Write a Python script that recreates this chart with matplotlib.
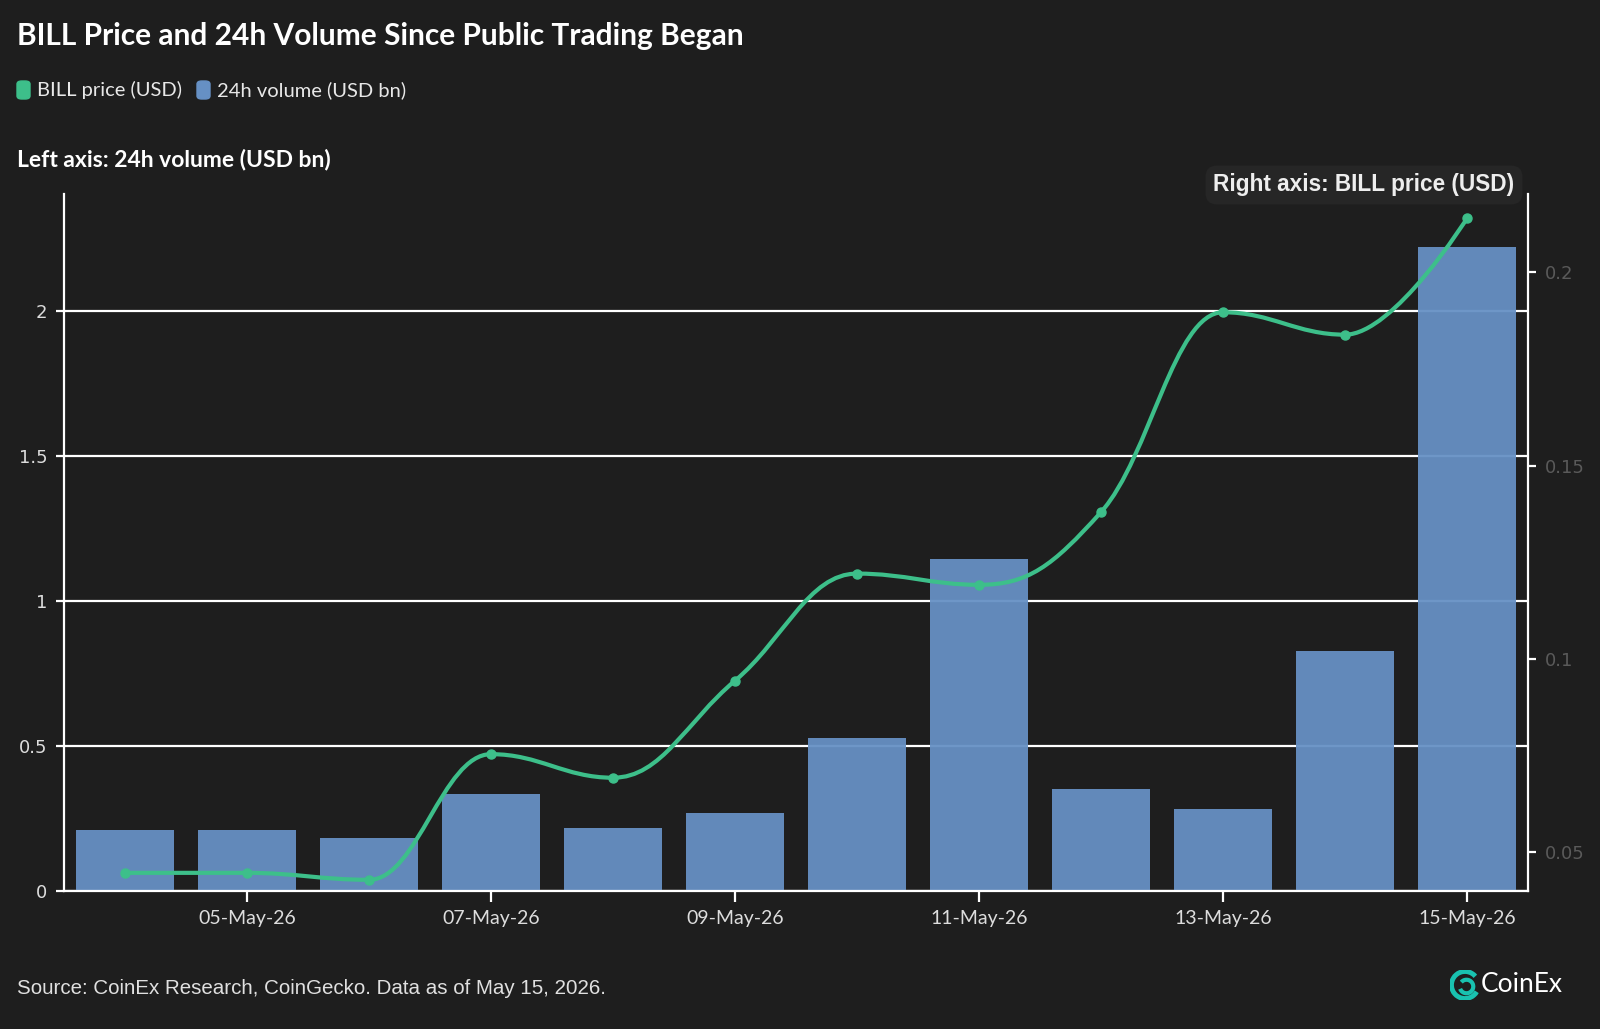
import matplotlib
matplotlib.use('Agg')
import matplotlib.pyplot as plt
from matplotlib.path import Path
from matplotlib.patches import PathPatch, Arc, FancyBboxPatch
import numpy as np

# data
dates = ["04-May-26", "05-May-26", "06-May-26", "07-May-26", "08-May-26", "09-May-26",
         "10-May-26", "11-May-26", "12-May-26", "13-May-26", "14-May-26", "15-May-26"]
volume_bn = [0.211, 0.211, 0.183, 0.335, 0.218, 0.268, 0.528, 1.144, 0.352, 0.282, 0.827, 2.222]
price_usd = [0.0447, 0.0447, 0.0429, 0.0754, 0.0693, 0.0944, 0.1221, 0.1192, 0.1380, 0.1897, 0.1839, 0.2140]

BG = "#1e1e1e"
GREEN = "#3dbf8a"
BLUE = "#6690c4"


def spline_path(xs, ys, smoothing=1.5):
    # Highcharts-style spline control points
    n = len(xs)
    lc = [(x, y) for x, y in zip(xs, ys)]
    rc = [(x, y) for x, y in zip(xs, ys)]
    denom = smoothing + 1
    for i in range(1, n - 1):
        px, py = xs[i], ys[i]
        lx, ly = xs[i - 1], ys[i - 1]
        nx, ny = xs[i + 1], ys[i + 1]
        lcx = (smoothing * px + lx) / denom
        lcy = (smoothing * py + ly) / denom
        rcx = (smoothing * px + nx) / denom
        rcy = (smoothing * py + ny) / denom
        if rcx != lcx:
            corr = ((rcy - lcy) * (rcx - px)) / (rcx - lcx) + py - rcy
            lcy += corr
            rcy += corr
        if lcy > ly and lcy > py:
            lcy = max(ly, py)
            rcy = 2 * py - lcy
        elif lcy < ly and lcy < py:
            lcy = min(ly, py)
            rcy = 2 * py - lcy
        if rcy > ny and rcy > py:
            rcy = max(ny, py)
            lcy = 2 * py - rcy
        elif rcy < ny and rcy < py:
            rcy = min(ny, py)
            lcy = 2 * py - rcy
        lc[i] = (lcx, lcy)
        rc[i] = (rcx, rcy)
    verts = [(xs[0], ys[0])]
    codes = [Path.MOVETO]
    for i in range(1, n):
        verts += [rc[i - 1], lc[i], (xs[i], ys[i])]
        codes += [Path.CURVE4] * 3
    return Path(verts, codes)


fig = plt.figure(figsize=(16, 10.29), dpi=100, facecolor=BG)
ax = fig.add_axes([0.04, 0.1341, 0.915, 0.6774])
ax.set_facecolor(BG)

x = np.arange(len(dates))
ax.set_axisbelow(True)
ax.yaxis.grid(True, color="white", linewidth=1.6)
ax.bar(x, volume_bn, width=0.8, color=BLUE, alpha=0.95, zorder=2)
ax.set_xlim(-0.5, len(dates) - 0.5)
ax.set_ylim(0, 2.405)
ax.set_yticks([0, 0.5, 1, 1.5, 2])
ax.set_yticklabels(["0", "0.5", "1", "1.5", "2"])
ax.set_xticks(x[1::2])
ax.set_xticklabels(dates[1::2])

for s in ["top", "right"]:
    ax.spines[s].set_visible(False)
ax.spines["left"].set_color("white")
ax.spines["left"].set_linewidth(1.6)
ax.spines["bottom"].set_color("white")
ax.spines["bottom"].set_linewidth(1.6)
ax.tick_params(axis="y", colors="white", labelcolor="#dddddd", labelsize=13,
               length=6, width=1.6, pad=6)
ax.tick_params(axis="x", colors="white", labelcolor="#dddddd", labelsize=14,
               length=8, width=1.6, pad=6)
for lab in ax.get_yticklabels():
    lab.set_family("DejaVu Sans")
for lab in ax.get_xticklabels():
    lab.set_family("Lato")

ax2 = ax.twinx()
ax2.set_ylim(0.04, 0.2203)
ax2.set_yticks([0.05, 0.1, 0.15, 0.2])
ax2.set_yticklabels(["0.05", "0.1", "0.15", "0.2"])
for s in ["top", "left", "bottom"]:
    ax2.spines[s].set_visible(False)
ax2.spines["right"].set_color("white")
ax2.spines["right"].set_linewidth(1.6)
ax2.tick_params(axis="y", colors="white", labelcolor="#5a5a5a", labelsize=13,
                length=6, width=1.6, pad=6)

ax2.add_patch(PathPatch(spline_path(list(x.astype(float)), price_usd), facecolor="none",
                        edgecolor=GREEN, linewidth=3, zorder=4, clip_on=False))
ax2.plot(x, price_usd, "o", color=GREEN, markersize=6.5, zorder=5, clip_on=False)

# texts
fig.text(17 / 1600, 1 - 36 / 1029, "BILL Price and 24h Volume Since Public Trading Began",
         color="white", fontsize=21.5, fontweight="bold", family="Lato", va="center")

# legend
fig.patches.append(FancyBboxPatch((17 / 1600, 1 - 99 / 1029), 13 / 1600, 18 / 1029,
                                  boxstyle="round,pad=0,rounding_size=0.003",
                                  transform=fig.transFigure, color=GREEN))
fig.text(37 / 1600, 1 - 90 / 1029, "BILL price (USD)", color="#e8e8e8", fontsize=14.5,
         family="Lato", va="center")
fig.patches.append(FancyBboxPatch((197 / 1600, 1 - 99 / 1029), 13 / 1600, 18 / 1029,
                                  boxstyle="round,pad=0,rounding_size=0.003",
                                  transform=fig.transFigure, color=BLUE))
fig.text(217 / 1600, 1 - 90 / 1029, "24h volume (USD bn)", color="#e8e8e8", fontsize=14.5,
         family="Lato", va="center")

fig.text(17 / 1600, 1 - 159 / 1029, "Left axis: 24h volume (USD bn)", color="white",
         fontsize=16.5, fontweight="bold", family="Lato", va="center")

fig.text(1364 / 1600, 1 - 185 / 1029, "Right axis: BILL price (USD)", color="#eeeeee",
         fontsize=16.3, fontweight="bold", family="Liberation Sans", va="center", ha="center",
         bbox=dict(boxstyle="round,pad=0.35,rounding_size=0.5", facecolor="#262626",
                   edgecolor="none"))

fig.text(17 / 1600, 1 - 989 / 1029, "Source: CoinEx Research, CoinGecko. Data as of May 15, 2026.",
         color="#e0e0e0", fontsize=14.8, family="Liberation Sans", va="center")

# logo
logo_ax = fig.add_axes([1450 / 1600, 1 - 1002 / 1029, 30 / 1600, 34 / 1029])
logo_ax.set_xlim(-1, 1)
logo_ax.set_ylim(-1, 1)
logo_ax.set_aspect("equal")
logo_ax.axis("off")
logo_ax.add_patch(Arc((0, 0), 1.8, 1.8, theta1=40, theta2=330, color="#19c2b0", linewidth=3.5))
logo_ax.add_patch(Arc((0.1, -0.1), 0.9, 0.9, theta1=200, theta2=500, color="#19c2b0", linewidth=3))
fig.text(1481 / 1600, 1 - 985 / 1029, "CoinEx", color="white", fontsize=19,
         family="Lato", va="center")

fig.savefig("out.png", dpi=100, facecolor=BG)
